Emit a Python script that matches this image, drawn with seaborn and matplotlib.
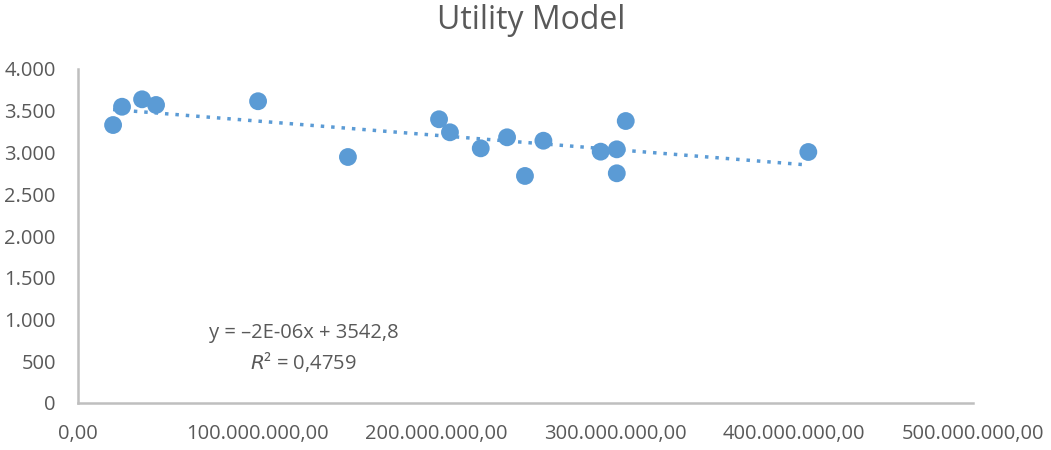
import matplotlib
matplotlib.use("Agg")
import matplotlib.pyplot as plt
import seaborn as sns
import numpy as np
import pandas as pd
from matplotlib.ticker import FuncFormatter

x_values = [19.6e6, 24.6e6, 35.8e6, 43.6e6, 100.6e6, 150.8e6, 201.7e6, 207.8e6, 225.0e6,
            239.7e6, 249.7e6, 260.0e6, 292.0e6, 301.0e6, 301.0e6, 306.0e6, 408.0e6]
y_values = [3329, 3548, 3637, 3569, 3614, 2946, 3398, 3242, 3050,
            3182, 2719, 3141, 3010, 3038, 2751, 3377, 3006]
title = "Utility Model"
equation = "y = \u20132E-06x + 3542,8"
r2_text = "0,4759"

df = pd.DataFrame({"x": x_values, "y": y_values})

sns.set_theme(style="white")
plt.rcParams['font.family'] = ['Open Sans', 'DejaVu Sans']

blue = "#5B9BD5"
gray_txt = "#595959"

fig = plt.figure(figsize=(10.51, 4.5), dpi=100)
ax = fig.add_axes([78/1051, 47/450, (973-78)/1051, (403-69)/450])

sns.scatterplot(data=df, x="x", y="y", ax=ax, color=blue, s=165, edgecolor="none", zorder=3)

coef = np.polyfit(df["x"], df["y"], 1)
xs = np.array([df["x"].min(), df["x"].max()])
ax.plot(xs, np.polyval(coef, xs), linestyle=(0, (1, 2.0)), color=blue, linewidth=2.5, zorder=2)

ax.set_xlim(0, 500e6)
ax.set_ylim(0, 4000)
ax.set_xticks(np.arange(0, 500e6 + 1, 100e6))
ax.set_yticks(np.arange(0, 4001, 500))

def xfmt(v, pos):
    s = f"{v:,.2f}"
    return s.replace(",", "X").replace(".", ",").replace("X", ".")

def yfmt(v, pos):
    return f"{int(v):,}".replace(",", ".")

ax.xaxis.set_major_formatter(FuncFormatter(xfmt))
ax.yaxis.set_major_formatter(FuncFormatter(yfmt))
ax.tick_params(axis="both", colors=gray_txt, labelsize=14.5, length=0)
ax.tick_params(axis="x", pad=15)
ax.tick_params(axis="y", pad=16)
ax.set_xlabel("")
ax.set_ylabel("")

for side in ["top", "right"]:
    ax.spines[side].set_visible(False)
for side in ["left", "bottom"]:
    ax.spines[side].set_color("#BFBFBF")
    ax.spines[side].set_linewidth(1.8)

fig.text(531/1051, 1 - 29/450, title, ha="center", va="baseline", fontsize=23, color=gray_txt)

ax.text(0.252, 0.21, equation, transform=ax.transAxes, ha="center", va="center",
        fontsize=14.5, color=gray_txt)
ax.text(0.252, 0.123, r"$\it{R}$" + "\u00b2 = " + r2_text, transform=ax.transAxes,
        ha="center", va="center", fontsize=14.5, color=gray_txt)

fig.savefig("out.png", dpi=100)
